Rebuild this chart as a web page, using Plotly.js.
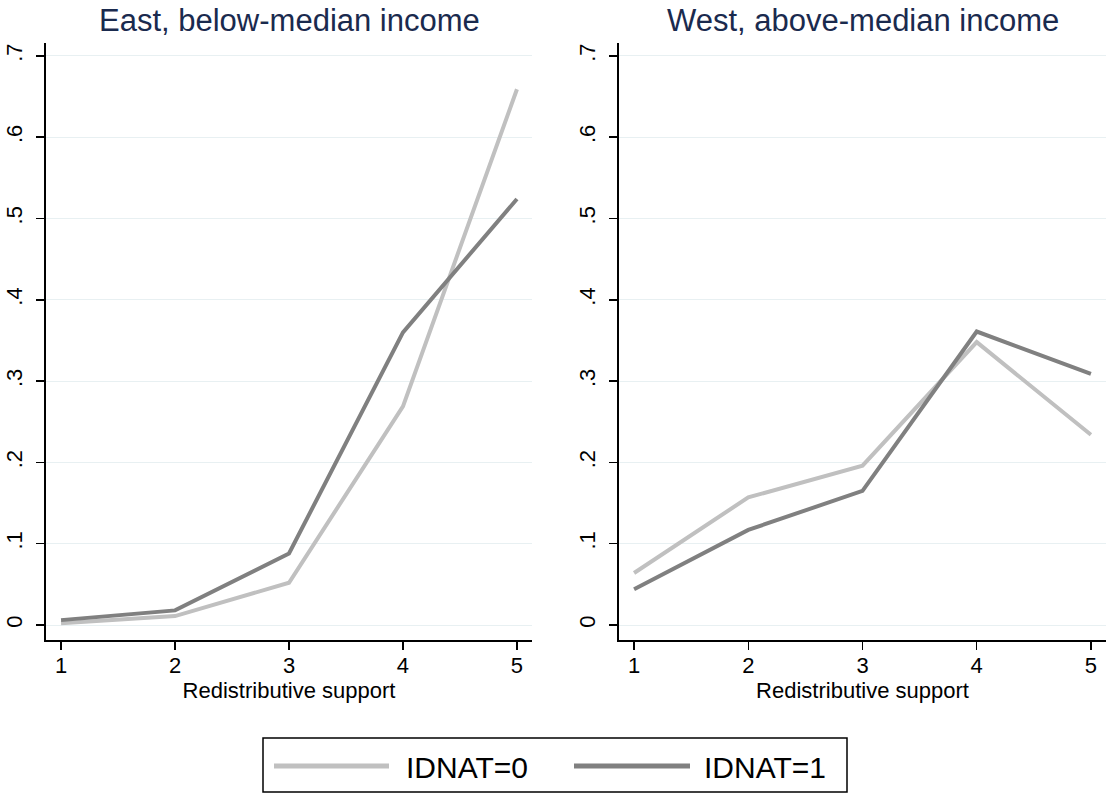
<!DOCTYPE html>
<html>
<head>
<meta charset="utf-8">
<script src="https://cdn.plot.ly/plotly-3.0.1.min.js"></script>
<style>html,body{margin:0;padding:0;background:#fff;}#chart{width:1106px;height:794px;}</style>
</head>
<body>
<div id="chart"></div>
<script>
// ---- data ----
var categories = [1, 2, 3, 4, 5];
var eastIdnat0 = [0.002, 0.011, 0.052, 0.269, 0.659];
var eastIdnat1 = [0.006, 0.018, 0.088, 0.360, 0.524];
var westIdnat0 = [0.064, 0.157, 0.196, 0.348, 0.234];
var westIdnat1 = [0.044, 0.117, 0.165, 0.361, 0.309];
var panelTitles = ["East, below-median income", "West, above-median income"];
var seriesNames = ["IDNAT=0", "IDNAT=1"];
var xTickVals = [1, 2, 3, 4, 5];
var xTickText = ["1", "2", "3", "4", "5"];
var yTickVals = [0, 0.1, 0.2, 0.3, 0.4, 0.5, 0.6, 0.7];
var yTickText = ["0", ".1", ".2", ".3", ".4", ".5", ".6", ".7"];
var xAxisTitle = "Redistributive support";

// ---- styling / geometry ----
var W = 1106, H = 794;
function px(x) { return x / W; }
function py(y) { return 1 - y / H; }
var lightColor = "#c0c0c0", darkColor = "#808080";
var FONT = "Liberation Sans, Arial, sans-serif";
var titleColor = "#1a2a4e";

function xAxis(domain) {
  return {
    domain: domain, range: [0.868, 5.132], showline: true, linecolor: "#000", linewidth: 2,
    ticks: "outside", ticklen: 8, tickwidth: 1.5, tickcolor: "#000",
    tickvals: xTickVals, ticktext: xTickText, showgrid: false, zeroline: false,
    tickfont: {family: FONT, size: 22, color: "#000"}, ticklabelstandoff: -3,
    title: {text: xAxisTitle, font: {family: FONT, size: 22, color: "#000"}, standoff: 0},
    fixedrange: true
  };
}
function yAxis(anchor) {
  return {
    domain: [py(640), py(43)], range: [-0.01845, 0.7159], anchor: anchor,
    showline: true, linecolor: "#000", linewidth: 2,
    ticks: "outside", ticklen: 8, tickwidth: 1.5, tickcolor: "#000",
    tickvals: yTickVals, ticktext: yTickText, tickangle: -90,
    showgrid: true, gridcolor: "#e8f0f2", gridwidth: 1, zeroline: false,
    tickfont: {family: FONT, size: 22, color: "#000"}, ticklabelstandoff: 5,
    fixedrange: true
  };
}

var traces = [
  {x: categories, y: eastIdnat0, xaxis: "x", yaxis: "y", name: seriesNames[0], mode: "lines", line: {color: lightColor, width: 4}},
  {x: categories, y: eastIdnat1, xaxis: "x", yaxis: "y", name: seriesNames[1], mode: "lines", line: {color: darkColor, width: 4}},
  {x: categories, y: westIdnat0, xaxis: "x2", yaxis: "y2", name: seriesNames[0], mode: "lines", line: {color: lightColor, width: 4}},
  {x: categories, y: westIdnat1, xaxis: "x2", yaxis: "y2", name: seriesNames[1], mode: "lines", line: {color: darkColor, width: 4}}
];

var leftDom = [px(46), px(532)], rightDom = [px(619), 1];

var layout = {
  width: W, height: H,
  margin: {l: 0, r: 0, t: 0, b: 0},
  paper_bgcolor: "#fff", plot_bgcolor: "#fff",
  showlegend: false,
  xaxis: xAxis(leftDom), yaxis: yAxis("x"),
  xaxis2: xAxis(rightDom), yaxis2: yAxis("x2"),
  annotations: [
    {text: panelTitles[0], xref: "paper", yref: "paper", x: (leftDom[0] + leftDom[1]) / 2, y: py(20), xanchor: "center", yanchor: "middle", showarrow: false, font: {family: FONT, size: 31, color: titleColor}},
    {text: panelTitles[1], xref: "paper", yref: "paper", x: (rightDom[0] + rightDom[1]) / 2, y: py(20), xanchor: "center", yanchor: "middle", showarrow: false, font: {family: FONT, size: 31, color: titleColor}},
    {text: seriesNames[0], xref: "paper", yref: "paper", x: px(404), y: py(767), xanchor: "left", yanchor: "middle", showarrow: false, font: {family: FONT, size: 30, color: "#000"}},
    {text: seriesNames[1], xref: "paper", yref: "paper", x: px(702), y: py(767), xanchor: "left", yanchor: "middle", showarrow: false, font: {family: FONT, size: 30, color: "#000"}}
  ],
  shapes: [
    {type: "rect", xref: "paper", yref: "paper", x0: px(263), x1: px(847), y0: py(792), y1: py(738), line: {color: "#000", width: 1.5}, fillcolor: "rgba(0,0,0,0)"},
    {type: "line", xref: "paper", yref: "paper", x0: px(274), x1: px(389), y0: py(766), y1: py(766), line: {color: lightColor, width: 5}},
    {type: "line", xref: "paper", yref: "paper", x0: px(574), x1: px(690), y0: py(766), y1: py(766), line: {color: darkColor, width: 5}}
  ]
};

Plotly.newPlot("chart", traces, layout, {staticPlot: true, displayModeBar: false});
</script>
</body>
</html>
